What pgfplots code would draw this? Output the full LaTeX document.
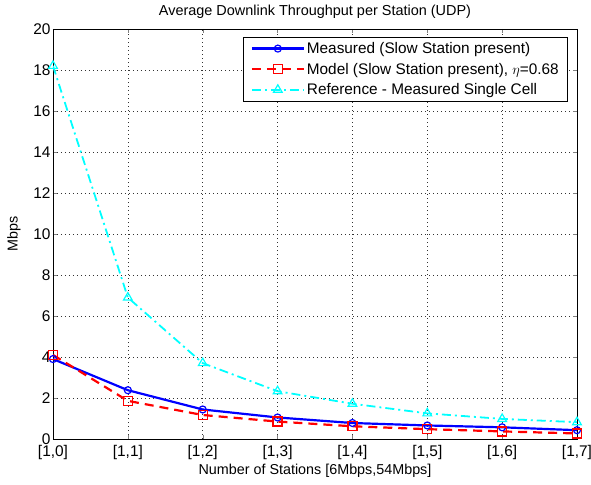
\documentclass[border=0pt]{standalone}
\usepackage{pgfplots}
\pgfplotsset{compat=1.18}
\usepackage{fontspec}
\setmainfont{Liberation Sans}
\definecolor{mblue}{RGB}{0,0,255}
\definecolor{mred}{RGB}{255,0,0}
\definecolor{mcyan}{RGB}{0,255,255}
\begin{document}
\begin{tikzpicture}[x=1bp,y=1bp]
\useasboundingbox (-53bp,-46bp) rectangle (538bp,439bp);
\begin{axis}[
  at={(0,0)}, anchor=south west,
  scale only axis, width=524bp, height=410bp,
  xmin=0, xmax=7, ymin=0, ymax=20,
  xtick={0,...,7},
  xticklabels={{[1,0]},{[1,1]},{[1,2]},{[1,3]},{[1,4]},{[1,5]},{[1,6]},{[1,7]}},
  ytick={0,2,...,20},
  tick align=inside, tick pos=both,
  major tick length=4bp,
  grid=major,
  grid style={black!80, dash pattern=on 1bp off 3bp, line width=0.7pt},
  axis line style={black, line width=0.6pt},
  /pgf/number format/assume math mode=true,
  ticklabel style={font=\fontsize{15.5}{16}\selectfont},
  yticklabel style={xshift=1bp},
  xticklabel style={yshift=-3bp},
  title={Average Downlink Throughput per Station (UDP)},
  title style={font=\fontsize{14.5}{16}\selectfont, at={(0.5,1)}, yshift=1bp, anchor=south},
  xlabel={Number of Stations [6Mbps,54Mbps]},
  ylabel={Mbps},
  label style={font=\fontsize{14.4}{16}\selectfont},
  xlabel style={at={(0.5,0)}, anchor=center, yshift=-32bp},
  ylabel style={at={(-0.0745,0.5)}, anchor=center, rotate=0},
  legend style={at={(515bp,402bp)}, anchor=north east, draw=black, fill=white,
    font=\fontsize{15.4}{17}\selectfont, row sep=4bp, inner ysep=3bp, inner xsep=7bp, line width=0.6pt,
    cells={anchor=west}},
  legend image code/.code={\draw[mark repeat=2,mark phase=2] plot coordinates {(0bp,0bp) (26bp,0bp) (52bp,0bp)};},
]
\addplot[mblue, line width=2.2pt, mark=o, mark size=3.5bp, mark options={solid, line width=1.2pt}]
coordinates {(0,3.9) (1,2.38) (2,1.44) (3,1.05) (4,0.78) (5,0.66) (6,0.57) (7,0.43)};
\addlegendentry{Measured (Slow Station present)}
\addplot[mred, line width=2.2pt, dash pattern=on 9bp off 6bp, mark=square, mark size=4.5bp, mark options={solid, line width=1.2pt}]
coordinates {(0,4.1) (1,1.86) (2,1.17) (3,0.85) (4,0.62) (5,0.48) (6,0.37) (7,0.27)};
\addlegendentry{Model (Slow Station present), $\eta$=0.68}
\addplot[mcyan, line width=1.8pt, dash pattern=on 9bp off 4bp on 2bp off 4bp, mark=triangle, mark size=5bp, mark options={solid, line width=1.2pt}]
coordinates {(0,18.2) (1,6.9) (2,3.7) (3,2.33) (4,1.72) (5,1.25) (6,0.98) (7,0.82)};
\addlegendentry{Reference - Measured Single Cell}
\end{axis}
\end{tikzpicture}
\end{document}
